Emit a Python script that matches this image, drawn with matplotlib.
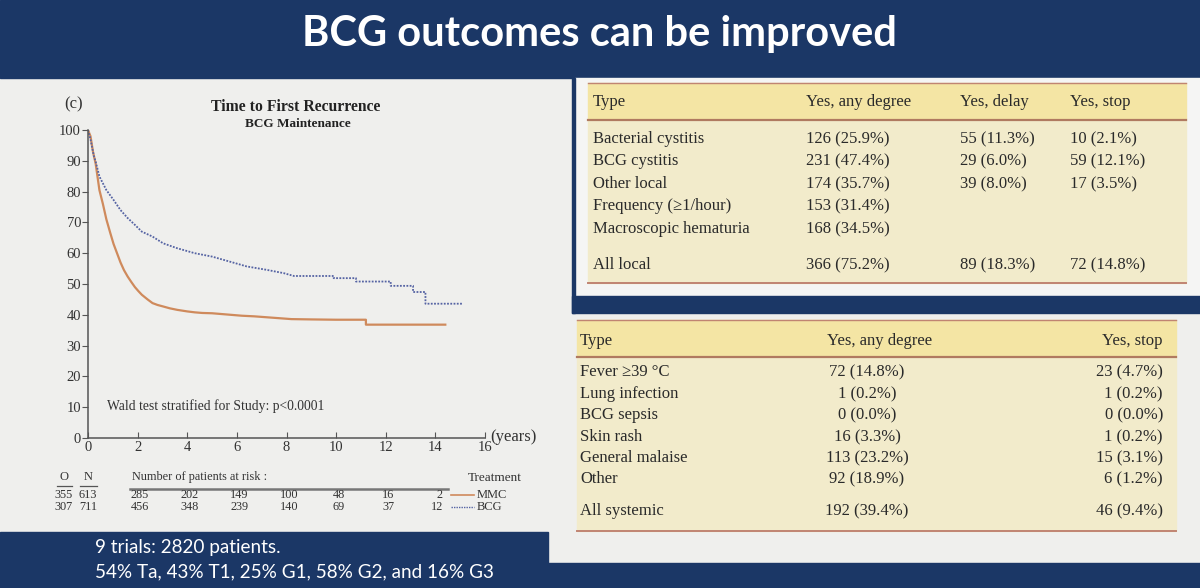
import matplotlib as mpl
mpl.use("Agg")
import matplotlib.pyplot as plt
from matplotlib.patches import Rectangle
from matplotlib.transforms import blended_transform_factory

## Data
# Kaplan-Meier curves (years, % free of recurrence)
mmc_t = [0, 0.1, 0.2, 0.31, 0.46, 0.6, 0.74, 0.9, 1.03, 1.17, 1.31, 1.45, 1.6, 1.75, 1.89, 2.03,
         2.17, 2.4, 2.6, 2.8, 3.03, 3.3, 3.6, 4.0, 4.3, 4.6, 5.0, 5.6, 6.2, 6.7, 7.2, 7.7, 8.2,
         9.0, 10.0, 11.2, 11.2, 14.4]
mmc_s = [100, 98, 93, 89, 80.5, 76, 71, 66.5, 63, 60, 57, 54.5, 52.4, 50.6, 49, 47.7,
         46.5, 45, 43.8, 43.2, 42.7, 42.1, 41.6, 41.1, 40.8, 40.6, 40.5, 40.1, 39.7, 39.5, 39.2, 38.9, 38.6,
         38.5, 38.4, 38.4, 36.8, 36.8]
bcg_t = [0, 0.1, 0.24, 0.31, 0.46, 0.74, 1.03, 1.31, 1.6, 1.89, 2.17, 2.6, 3.03, 3.6, 4.3, 5.0,
         5.7, 6.4, 7.2, 7.9, 8.3, 9.9, 9.9, 10.8, 10.8, 12.2, 12.2, 13.1, 13.1, 13.6, 13.6, 15.1]
bcg_s = [100, 97, 91.4, 89.7, 84.9, 80.5, 77.3, 74, 71.4, 69.2, 67, 65.4, 63.2, 61.6, 60, 58.9,
         57.3, 55.7, 54.6, 53.5, 52.6, 52.6, 51.9, 51.9, 50.8, 50.8, 49.4, 49.4, 47.4, 47.4, 43.6, 43.6]

risk_years = [2, 4, 6, 8, 10, 12, 14]
risk_mmc = [285, 202, 149, 100, 48, 16, 2]
risk_bcg = [456, 348, 239, 140, 69, 37, 12]
obs_n = {"MMC": (355, 613), "BCG": (307, 711)}

local_cols = ["Type", "Yes, any degree", "Yes, delay", "Yes, stop"]
local_types = ["Bacterial cystitis", "BCG cystitis", "Other local", "Frequency (\u22651/hour)",
               "Macroscopic hematuria", "All local"]
local_any = ["126 (25.9%)", "231 (47.4%)", "174 (35.7%)", "153 (31.4%)", "168 (34.5%)", "366 (75.2%)"]
local_delay = ["55 (11.3%)", "29 (6.0%)", "39 (8.0%)", "", "", "89 (18.3%)"]
local_stop = ["10 (2.1%)", "59 (12.1%)", "17 (3.5%)", "", "", "72 (14.8%)"]

sys_cols = ["Type", "Yes, any degree", "Yes, stop"]
sys_types = ["Fever \u226539 \u00b0C", "Lung infection", "BCG sepsis", "Skin rash", "General malaise",
             "Other", "All systemic"]
sys_any = ["72 (14.8%)", "1 (0.2%)", "0 (0.0%)", "16 (3.3%)", "113 (23.2%)", "92 (18.9%)", "192 (39.4%)"]
sys_stop = ["23 (4.7%)", "1 (0.2%)", "0 (0.0%)", "1 (0.2%)", "15 (3.1%)", "6 (1.2%)", "46 (9.4%)"]

## Style
NAVY = "#1b3766"
BG = "#efefed"
HEAD_Y = "#f4e5a4"
BODY_Y = "#f2ebcb"
RULE = "#c08472"
ORANGE = "#cf8a5c"
BLUE = "#5563a3"
INK = "#2a2a2a"
SERIF = ["Liberation Serif", "DejaVu Serif"]
SANS = ["Lato", "DejaVu Sans"]

mpl.rcParams["font.family"] = SERIF

fig = plt.figure(figsize=(12, 5.88), dpi=100)
fig.patch.set_facecolor(BG)

# background axes in pixel coordinates
bg = fig.add_axes([0, 0, 1, 1])
bg.set_xlim(0, 1200)
bg.set_ylim(588, 0)
bg.axis("off")

bg.add_patch(Rectangle((0, 0), 1200, 78, color=NAVY))
bg.add_patch(Rectangle((575, 78), 625, 218, color="#f5f5f4"))
bg.add_patch(Rectangle((572, 78), 3, 235, color=NAVY))
bg.add_patch(Rectangle((572, 296), 628, 17, color=NAVY))
bg.add_patch(Rectangle((0, 532), 548, 56, color=NAVY))
bg.add_patch(Rectangle((0, 563), 1200, 25, color=NAVY))

bg.text(599, 34, "BCG outcomes can be improved", color="white", fontsize=30,
        fontweight="bold", family=SANS, ha="center", va="center")
bg.text(95, 548, "9 trials: 2820 patients.", color="white", fontsize=13.6, family=SANS,
        ha="left", va="center")
bg.text(95, 572, "54% Ta, 43% T1, 25% G1, 58% G2, and 16% G3", color="white", fontsize=13.6,
        family=SANS, ha="left", va="center")

## Table of local side effects
t1_x0, t1_x1 = 588, 1186
bg.add_patch(Rectangle((t1_x0, 83), t1_x1 - t1_x0, 37, color=HEAD_Y))
bg.add_patch(Rectangle((t1_x0, 120), t1_x1 - t1_x0, 163, color=BODY_Y))
bg.plot([t1_x0, t1_x1], [83, 83], color=RULE, lw=1.0)
bg.plot([t1_x0, t1_x1], [120, 120], color="#b07a60", lw=1.6)
bg.plot([t1_x0, t1_x1], [283, 283], color=RULE, lw=1.4)
t1_colx = [593, 806, 960, 1070]
for x, lab in zip(t1_colx, local_cols):
    bg.text(x, 102, lab, fontsize=12, color=INK, ha="left", va="center")
t1_rowy = [139, 161, 184, 206, 229, 265]
for y, a, b, c, d in zip(t1_rowy, local_types, local_any, local_delay, local_stop):
    for x, s in zip(t1_colx, (a, b, c, d)):
        bg.text(x, y, s, fontsize=12, color=INK, ha="left", va="center")

## Table of systemic side effects
t2_x0, t2_x1 = 577, 1176
bg.add_patch(Rectangle((t2_x0, 320), t2_x1 - t2_x0, 37, color=HEAD_Y))
bg.add_patch(Rectangle((t2_x0, 357), t2_x1 - t2_x0, 174, color=BODY_Y))
bg.plot([t2_x0, t2_x1], [320, 320], color=RULE, lw=1.0)
bg.plot([t2_x0, t2_x1], [357, 357], color="#b07a60", lw=1.6)
bg.plot([t2_x0, t2_x1], [531, 531], color=RULE, lw=1.4)
bg.text(580, 341, sys_cols[0], fontsize=12, color=INK, ha="left", va="center")
bg.text(880, 341, sys_cols[1], fontsize=12, color=INK, ha="center", va="center")
bg.text(1163, 341, sys_cols[2], fontsize=12, color=INK, ha="right", va="center")
t2_rowy = [372, 394, 415, 437, 458, 479, 511]
for y, a, b, c in zip(t2_rowy, sys_types, sys_any, sys_stop):
    bg.text(580, y, a, fontsize=12, color=INK, ha="left", va="center")
    bg.text(867, y, b, fontsize=12, color=INK, ha="center", va="center")
    bg.text(1163, y, c, fontsize=12, color=INK, ha="right", va="center")

## Kaplan-Meier plot
ax = fig.add_axes([88 / 1200, (588 - 438) / 588, 397 / 1200, 308 / 588])
ax.set_facecolor("none")
ax.plot(mmc_t, mmc_s, color=ORANGE, lw=1.6)
ax.plot(bcg_t, bcg_s, color=BLUE, lw=1.3, linestyle=(0, (1, 0.8)))
ax.set_xlim(0, 16)
ax.set_ylim(0, 100)
ax.set_xticks(range(0, 17, 2))
ax.set_yticks(range(0, 101, 10))
for sp in ("top", "right"):
    ax.spines[sp].set_visible(False)
for sp in ("left", "bottom"):
    ax.spines[sp].set_color("#555555")
    ax.spines[sp].set_linewidth(1.1)
ax.tick_params(axis="y", direction="out", length=4, color="#555555", labelsize=10.5,
               labelcolor="#333333", pad=1)
ax.tick_params(axis="x", direction="in", length=4, color="#555555", labelsize=10.5,
               labelcolor="#333333", pad=2)

bg.text(107, 406, "Wald test stratified for Study: p<0.0001", fontsize=9.8, color="#333333",
        va="center", ha="left")
bg.text(74, 104, "(c)", fontsize=12, color="#333333", ha="center", va="center")
bg.text(296, 107, "Time to First Recurrence", fontsize=11.3, fontweight="bold", color="#222222",
        ha="center", va="center")
bg.text(298, 124, "BCG Maintenance", fontsize=9.5, fontweight="bold", color="#222222",
        ha="center", va="center")
bg.text(490, 437, "(years)", fontsize=12, color="#333333", ha="left", va="center")

# numbers at risk
tr = blended_transform_factory(ax.transData, bg.transData)
bg.text(64, 477, "O", fontsize=9, color="#333333", ha="center", va="center")
bg.text(88, 477, "N", fontsize=9, color="#333333", ha="center", va="center")
bg.plot([57, 72], [486, 486], color="#555555", lw=0.9)
bg.plot([80, 97], [486, 486], color="#555555", lw=0.9)
bg.text(132, 477, "Number of patients at risk :", fontsize=8.8, color="#333333", ha="left", va="center")
bg.plot([130, 448], [489, 489], color="#777777", lw=1.8)
bg.text(522, 478, "Treatment", fontsize=9.5, color="#333333", ha="right", va="center")
for y, (name, vals) in zip([495, 507], [("MMC", risk_mmc), ("BCG", risk_bcg)]):
    o, n = obs_n[name]
    bg.text(64, y, str(o), fontsize=8.8, color="#333333", ha="center", va="center")
    bg.text(88, y, str(n), fontsize=8.8, color="#333333", ha="center", va="center")
    for yr, v in zip(risk_years, vals):
        ha = "right" if yr == 14 else "center"
        xx = yr + 0.3 if yr == 14 else yr + 0.1
        ax.text(xx, y, str(v), fontsize=8.8, color="#333333", ha=ha, va="center", transform=tr)
    bg.text(477, y, name, fontsize=9, color="#333333", ha="left", va="center")
bg.plot([451, 474], [495, 495], color=ORANGE, lw=1.2)
bg.plot([451, 474], [507, 507], color=BLUE, lw=1.0, linestyle=(0, (1, 0.8)))

fig.savefig("out.png", dpi=100, facecolor=fig.get_facecolor())
